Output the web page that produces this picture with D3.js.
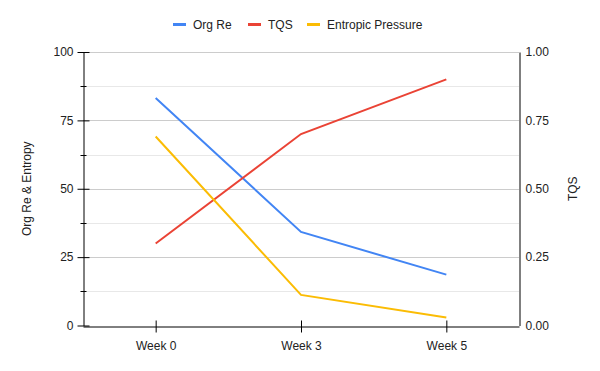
<!DOCTYPE html>
<html>
<head>
<meta charset="utf-8">
<script src="https://cdn.jsdelivr.net/npm/d3@7"></script>
<style>
  body { margin: 0; background: #fff; }
  text { font-family: "Liberation Sans", Arial, sans-serif; fill: #222; }
</style>
</head>
<body>
<script>
var weeks = ["Week 0", "Week 3", "Week 5"]
var orgRe = [83.2, 34.2, 18.6]
var entropic = [69.1, 11.2, 2.9]
var tqs = [0.30, 0.70, 0.90]
var leftTicks = [0, 25, 50, 75, 100]
var rightTicks = [0, 0.25, 0.5, 0.75, 1]

var w = 600, h = 371
var plotL = 83, plotR = 519, plotT = 52, plotB = 325.5

var svg = d3.select("body").append("svg")
  .attr("width", w).attr("height", h)

// Scales
var xScale = d3.scalePoint().domain(weeks).range([plotL, plotR]).padding(0.5)
var yLeft = d3.scaleLinear().domain([0, 100]).range([plotB, plotT])
var yRight = d3.scaleLinear().domain([0, 1]).range([plotB, plotT])

function py(d) { return Math.round(yLeft(d)) + 0.5 }

// gridlines: minor then major
var minor = [12.5, 37.5, 62.5, 87.5]
svg.append("g").selectAll("line").data(minor).enter().append("line")
  .attr("x1", plotL).attr("x2", plotR)
  .attr("y1", py).attr("y2", py)
  .attr("stroke", "#e8e8e8")
svg.append("g").selectAll("line").data(leftTicks.slice(1)).enter().append("line")
  .attr("x1", plotL).attr("x2", plotR)
  .attr("y1", py).attr("y2", py)
  .attr("stroke", "#cccccc")

// lines
var series = [
  { name: "Org Re", values: orgRe, color: "#4285f4", y: yLeft },
  { name: "TQS", values: tqs, color: "#ea4335", y: yRight },
  { name: "Entropic Pressure", values: entropic, color: "#fbbc04", y: yLeft }
]
series.forEach(function(s) {
  var line = d3.line()
    .x(function(d, i) { return xScale(weeks[i]) })
    .y(function(d) { return s.y(d) })
  svg.append("path").datum(s.values)
    .attr("d", line)
    .attr("fill", "none")
    .attr("stroke", s.color)
    .attr("stroke-width", 2)
})

// left axis
var yAxisL = d3.axisLeft(yLeft).tickValues(leftTicks).tickSizeOuter(0).tickPadding(5)
var gl = svg.append("g").attr("transform", "translate(" + (plotL + 0.5) + ",0)").call(yAxisL)
gl.select(".domain").attr("stroke", "#000")
gl.selectAll(".tick line").attr("x1", -6).attr("x2", 6).attr("stroke", "#000")
gl.selectAll(".tick text").attr("x", -10).style("font-size", "12px")
// minor ticks on left axis
gl.selectAll(".mt").data(minor).enter().append("line")
  .attr("x1", -3).attr("x2", 3)
  .attr("y1", py).attr("y2", py)
  .attr("stroke", "#000")

// right axis
var yAxisR = d3.axisRight(yRight).tickValues(rightTicks).tickFormat(d3.format(".2f")).tickSize(0).tickPadding(6)
var gr = svg.append("g").attr("transform", "translate(" + (plotR + 0.5) + ",0)").call(yAxisR)
gr.select(".domain").attr("stroke", "#000")
gr.selectAll(".tick text").style("font-size", "12px")

// x axis
var xAxis = d3.axisBottom(xScale).tickSizeOuter(0).tickPadding(9)
var gx = svg.append("g").attr("transform", "translate(0," + (Math.round(plotB) + 0.5) + ")").call(xAxis)
gx.select(".domain").attr("stroke", "#000")
gx.selectAll(".tick line").attr("y1", -6).attr("y2", 6).attr("stroke", "#000")
gx.selectAll(".tick text").style("font-size", "12px")

// axis titles
svg.append("text")
  .attr("transform", "translate(31," + ((plotT + plotB) / 2) + ") rotate(-90)")
  .attr("text-anchor", "middle").style("font-size", "12px")
  .text("Org Re & Entropy")
svg.append("text")
  .attr("transform", "translate(577," + ((plotT + plotB) / 2) + ") rotate(-90)")
  .attr("text-anchor", "middle").style("font-size", "12px")
  .text("TQS")

// legend
var legendX = [173, 248, 307]
var legend = svg.append("g")
series.forEach(function(s, i) {
  legend.append("rect")
    .attr("x", legendX[i]).attr("y", 23).attr("width", 13).attr("height", 3)
    .attr("fill", s.color)
  legend.append("text")
    .attr("x", legendX[i] + 20).attr("y", 29)
    .style("font-size", "12px")
    .text(s.name)
})
</script>
</body>
</html>
